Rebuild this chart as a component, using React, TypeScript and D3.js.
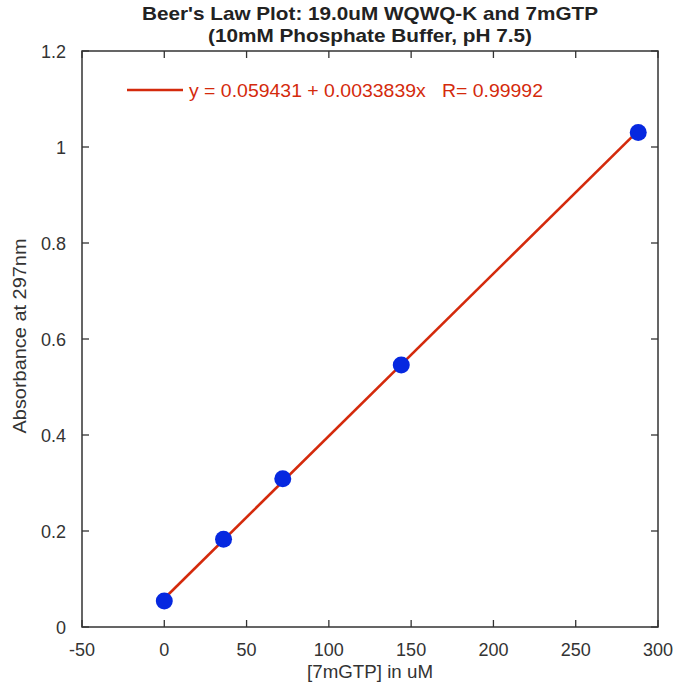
import React from "react";
import * as d3 from "d3";

const concentrations = [0, 36, 72, 144, 288];
const absorbances = [0.054, 0.183, 0.309, 0.546, 1.03];
const intercept = 0.059431;
const slope = 0.0033839;
const xTicks = [-50, 0, 50, 100, 150, 200, 250, 300];
const yTicks = [0, 0.2, 0.4, 0.6, 0.8, 1, 1.2];
const titleLines = ["Beer's Law Plot: 19.0uM WQWQ-K and 7mGTP", "(10mM Phosphate Buffer, pH 7.5)"];
const titleWidths = [456, 324];
const legendText = "y = 0.059431 + 0.0033839x   R= 0.99992";
const xLabel = "[7mGTP] in uM";
const yLabel = "Absorbance at 297nm";

const W = 675, H = 685;
const M = { left: 82, right: 17, top: 51, bottom: 58 };
const FONT = "'Liberation Sans', Arial, Helvetica, sans-serif";

export default function App() {
  const x = d3.scaleLinear().domain([-50, 300]).range([M.left, W - M.right]);
  const y = d3.scaleLinear().domain([0, 1.2]).range([H - M.bottom, M.top]);
  const fit = (v: number) => intercept + slope * v;
  const line = d3.line<number>().x((d) => x(d)).y((d) => y(fit(d)));
  const x0 = x.range()[0], x1 = x.range()[1], y0 = y.range()[0], y1 = y.range()[1];
  const tl = 7;
  const axisColor = "#333";
  const red = "#d42a0c";
  return (
    <svg width={W} height={H} style={{ position: "absolute", left: 0, top: 0, background: "#fff" }} fontFamily={FONT}>
      <rect x={0} y={0} width={W} height={H} fill="#fff" />
      {titleLines.map((t, i) => (
        <text key={i} x={(x0 + x1) / 2} y={20 + i * 22} textAnchor="middle" fontSize={19} fontWeight="bold" fill="#222"
          textLength={titleWidths[i]} lengthAdjust="spacingAndGlyphs">{t}</text>
      ))}
      <path d={line([concentrations[0], concentrations[concentrations.length - 1]]) || ""} stroke={red} strokeWidth={2.6} fill="none" />
      {concentrations.map((c, i) => (
        <circle key={i} cx={x(c)} cy={y(absorbances[i])} r={8.5} fill="#0628e0" />
      ))}
      <rect x={x0} y={y1} width={x1 - x0} height={y0 - y1} fill="none" stroke={axisColor} strokeWidth={1.5} />
      {xTicks.map((t) => (
        <g key={"x" + t}>
          <line x1={x(t)} x2={x(t)} y1={y0} y2={y0 - tl} stroke={axisColor} strokeWidth={1.3} />
          <line x1={x(t)} x2={x(t)} y1={y1} y2={y1 + tl} stroke={axisColor} strokeWidth={1.3} />
          <text x={x(t)} y={y0 + 29} textAnchor="middle" fontSize={18} fill="#333">{t}</text>
        </g>
      ))}
      {yTicks.map((t) => (
        <g key={"y" + t}>
          <line x1={x0} x2={x0 + tl} y1={y(t)} y2={y(t)} stroke={axisColor} strokeWidth={1.3} />
          <line x1={x1} x2={x1 - tl} y1={y(t)} y2={y(t)} stroke={axisColor} strokeWidth={1.3} />
          <text x={x0 - 16} y={y(t) + 6.5} textAnchor="end" fontSize={18} fill="#333">{d3.format("~g")(t)}</text>
        </g>
      ))}
      <text x={(x0 + x1) / 2} y={H - 7} textAnchor="middle" fontSize={18} fill="#333"
        textLength={126} lengthAdjust="spacingAndGlyphs">{xLabel}</text>
      <text transform={`translate(${26},${(y0 + y1) / 2 - 3}) rotate(-90)`} textAnchor="middle" fontSize={18} fill="#333"
        textLength={195} lengthAdjust="spacingAndGlyphs">{yLabel}</text>
      <line x1={127} x2={183} y1={90} y2={90} stroke={red} strokeWidth={2.6} />
      <text x={189} y={97} fontSize={18.5} fill={red} style={{ whiteSpace: "pre" }}
        textLength={354} lengthAdjust="spacingAndGlyphs">{legendText}</text>
    </svg>
  );
}
